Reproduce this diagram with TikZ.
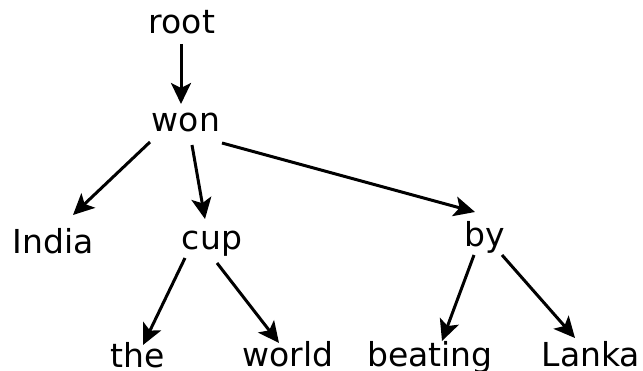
\documentclass[tikz,border=0pt]{standalone}
\usepackage{fontspec}
\setmainfont{DejaVu Sans}
\usetikzlibrary{arrows.meta}

\begin{document}
\begin{tikzpicture}[x=1pt,y=-1pt,
  word/.style={anchor=base,inner sep=0pt,font=\fontsize{33}{40}\selectfont},
  dep/.style={line width=3pt,-{Stealth[length=21pt,width=20pt,inset=5pt]}}]
\useasboundingbox (0,0) rectangle (643,371);
% words, placed on their baselines
\node [word] (root) at (182,34) {root};
\node [word] (won) at (186,132) {won};
\node [word] (india) at (53,254) {India};
\node [word] (cup) at (212,250) {cup};
\node [word] (by) at (485,247) {by};
\node [word] (the) at (138,368) {the};
\node [word] (world) at (288,367) {world};
\node [word] (beating) at (430,367) {beating};
\node [word] (lanka) at (591,367) {Lanka};
% dependencies
\draw [dep] ([shift={(-1,10)}]root.base) -- ([shift={(-5,-28)}]won.base);
\draw [dep] ([shift={(-36,10)}]won.base) -- ([shift={(20,-39)}]india.base);
\draw [dep] ([shift={(6,13)}]won.base) -- ([shift={(-7,-31)}]cup.base);
\draw [dep] ([shift={(36,11)}]won.base) -- ([shift={(-10,-35)}]by.base);
\draw [dep] ([shift={(-27,8)}]cup.base) -- ([shift={(5,-23)}]the.base);
\draw [dep] ([shift={(5,13)}]cup.base) -- ([shift={(-9,-24)}]world.base);
\draw [dep] ([shift={(-11,8)}]by.base) -- ([shift={(12,-26)}]beating.base);
\draw [dep] ([shift={(17,8)}]by.base) -- ([shift={(-16,-29)}]lanka.base);
\end{tikzpicture}
\end{document}
